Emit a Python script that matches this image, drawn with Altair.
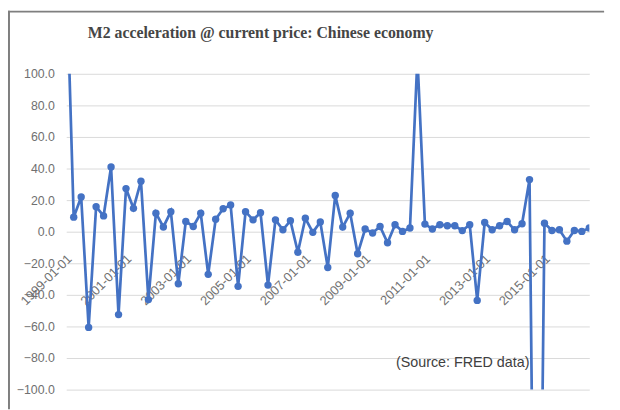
import altair as alt
import pandas as pd

# Quarterly observations, 1999-01-01 .. 2016-07-01
dates = [d.strftime("%Y-%m-%d") for d in pd.date_range("1999-01-01", periods=71, freq="QS")]
m2_accel = [
    170, 9.2, 22, -60.6, 15.8, 10, 41, -52.5, 27.3, 14.8,
    32, -43, 11.7, 3, 12.7, -33, 6.5, 3.3, 11.7, -27,
    7.9, 14.5, 16.9, -34.6, 12.7, 7.5, 12, -33.8, 7.5, 1.2,
    7, -13, 8.5, -0.4, 6.2, -22.7, 23, 2.9, 11.7, -14,
    1.7, -0.8, 3.3, -7, 4.4, 0.2, 2.3, 110, 4.8, 1.7,
    4.4, 3.8, 3.8, 0.7, 4.4, -43.5, 5.8, 1.2, 3.8, 6.5,
    1.2, 5, 33, -420, 5.4, 0.8, 1.2, -6, 0.8, 0.2,
    2.3,
]
tick_labels = ["1999-01-01", "2001-01-01", "2003-01-01", "2005-01-01",
               "2007-01-01", "2009-01-01", "2011-01-01", "2013-01-01", "2015-01-01"]
y_ticks = [-100, -80, -60, -40, -20, 0, 20, 40, 60, 80, 100]
title_text = "M2 acceleration  @ current price: Chinese economy"
source_text = "(Source: FRED data)"

df = pd.DataFrame({"date": dates, "value": m2_accel})

BLUE = "#4472C4"
W, H = 530, 320

x_axis = alt.Axis(
    values=tick_labels, labelAngle=-45, offset=-H / 2, domain=False, ticks=False,
    grid=False, title=None, labelAlign="right", labelBaseline="middle",
    labelPadding=25, labelFontSize=13, labelColor="#707070", labelFont="Liberation Sans",
    labelOffset=3, labelOverlap=False,
)
y_axis = alt.Axis(
    values=y_ticks, format=".1f", domain=False, ticks=False, title=None,
    gridColor="#d9d9d9", gridWidth=1, labelPadding=12, labelFontSize=12.5,
    labelColor="#707070", labelFont="Liberation Sans", labelOverlap=False,
)
x_scale = alt.Scale(type="point", padding=0)
y_scale = alt.Scale(domain=[-100, 100], nice=False, zero=False)

x_enc = alt.X("date:O", scale=x_scale, axis=x_axis)
y_enc = alt.Y("value:Q", scale=y_scale, axis=y_axis)

base = alt.Chart(df)
line = base.mark_line(color=BLUE, strokeWidth=2.75, clip=True).encode(x=x_enc, y=y_enc)
pts = base.mark_circle(color=BLUE, size=56, opacity=1, clip=True).encode(x=x_enc, y=y_enc)

source = alt.Chart(pd.DataFrame({"t": [source_text]})).mark_text(
    font="Liberation Sans", fontSize=14.5, color="#404040", align="center", baseline="middle", dx=8
).encode(
    x=alt.XDatum("2012-01-01", type="ordinal", scale=x_scale, axis=x_axis),
    y=alt.YDatum(-83, type="quantitative", scale=y_scale, axis=y_axis),
    text="t:N",
)

title = alt.Chart(pd.DataFrame({"t": [title_text]})).mark_text(
    font="Liberation Serif", fontSize=16, fontWeight="bold", color="#454545",
    align="center", baseline="alphabetic", clip=False,
).encode(x=alt.value(197), y=alt.value(-36), text="t:N")

frame_left = alt.Chart(pd.DataFrame({"k": [0]})).mark_rule(
    color="#7f7f7f", strokeWidth=2, clip=False
).encode(x=alt.value(-58), y=alt.value(-64), y2=alt.value(340))
frame_top = alt.Chart(pd.DataFrame({"k": [0]})).mark_rule(
    color="#7f7f7f", strokeWidth=2, clip=False
).encode(x=alt.value(-59), x2=alt.value(545), y=alt.value(-63))

chart = alt.layer(line, pts, source, title, frame_left, frame_top).properties(
    width=W, height=H,
    autosize=alt.AutoSizeParams(type="none"),
    padding={"left": 59, "top": 64, "right": 23, "bottom": 18},
).configure_view(stroke=None)

chart.save("out.html", embed_options={"renderer": "svg", "actions": False})
